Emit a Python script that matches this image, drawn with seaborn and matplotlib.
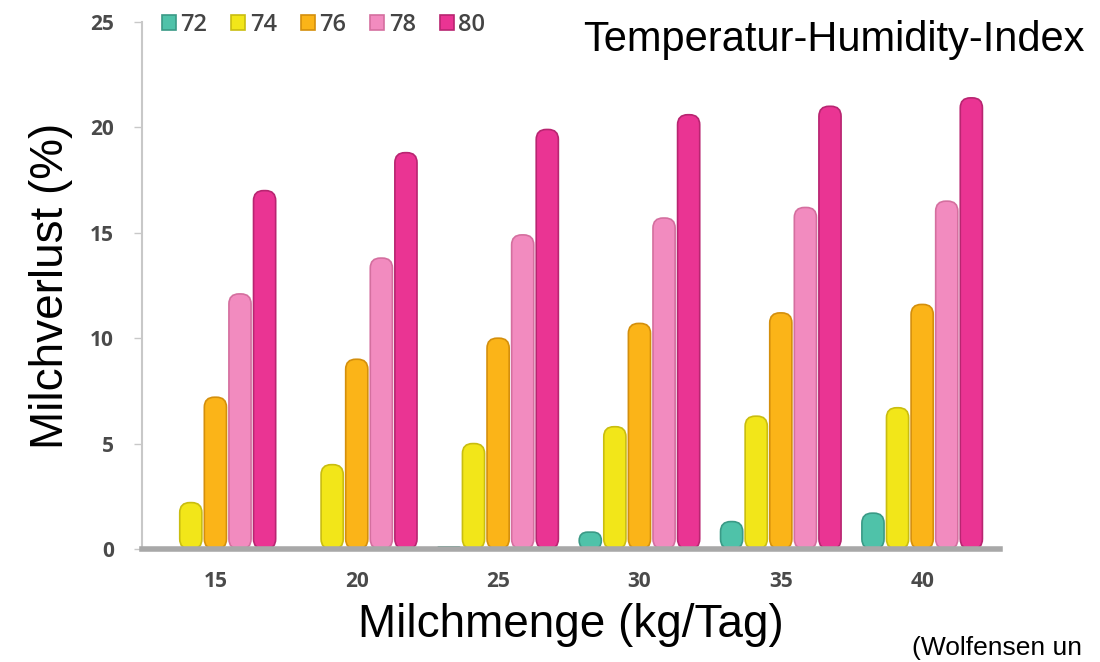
import matplotlib
matplotlib.use("Agg")
import matplotlib.pyplot as plt
from matplotlib.patches import FancyBboxPatch, Rectangle
import numpy as np
import pandas as pd
import seaborn as sns

# Milk yield groups (kg/day) and THI levels
milk_yield = ["15", "20", "25", "30", "35", "40"]
thi_levels = ["72", "74", "76", "78", "80"]

# Milk loss (%) per THI level, one value per milk-yield group
loss_72 = [0.0, 0.0, 0.1, 0.8, 1.3, 1.7]
loss_74 = [2.2, 4.0, 5.0, 5.8, 6.3, 6.7]
loss_76 = [7.2, 9.0, 10.0, 10.7, 11.2, 11.6]
loss_78 = [12.1, 13.8, 14.9, 15.7, 16.2, 16.5]
loss_80 = [17.0, 18.8, 19.9, 20.6, 21.0, 21.4]

y_ticks = [0, 5, 10, 15, 20, 25]

colors = ["#4fc2a9", "#f2e619", "#fbb418", "#f28bbf", "#ea3493"]
edges = ["#3a9a86", "#c9bd10", "#d48f0c", "#d46f9f", "#b82571"]

series = [loss_72, loss_74, loss_76, loss_78, loss_80]
df = pd.DataFrame({
    "Milchmenge": [m for _ in thi_levels for m in milk_yield],
    "THI": [t for t in thi_levels for _ in milk_yield],
    "Verlust": [v for s in series for v in s],
})

sns.set_theme(style="white")
plt.rcParams["font.family"] = ["Liberation Sans", "DejaVu Sans"]

fig = plt.figure(figsize=(11, 6.62), dpi=100)
ax = fig.add_axes([0.129, 0.1707, 0.78, 0.7961])

sns.barplot(data=df, x="Milchmenge", y="Verlust", hue="THI",
            order=milk_yield, hue_order=thi_levels, palette=colors,
            saturation=1, width=0.87, gap=0.1, errorbar=None, ax=ax,
            legend=False)

ax.set_ylim(0, 25)
ax.set_xlim(-0.52, 5.55)

# Swap the plain rectangles for rounded, outlined bars
y_px = 21.0
x_px = 141.4
rad_px = 10.0
rad_x = rad_px / x_px
aspect = (rad_px / y_px) / rad_x
rgb_list = [np.array(matplotlib.colors.to_rgb(c)) for c in colors]
bars = [p for p in ax.patches if isinstance(p, Rectangle)]
for p in bars:
    h = p.get_height()
    p.set_visible(False)
    if h <= 0:
        continue
    fc = np.array(p.get_facecolor()[:3])
    idx = int(np.argmin([np.abs(fc - c).sum() for c in rgb_list]))
    w = p.get_width()
    rs = min(rad_x, w / 2, h / aspect / 2)
    fb = FancyBboxPatch((p.get_x(), p.get_y()), w, h,
                        boxstyle=f"round,pad=0,rounding_size={rs}",
                        mutation_aspect=aspect,
                        facecolor=colors[idx], edgecolor=edges[idx],
                        linewidth=1.2, zorder=3, clip_on=False)
    ax.add_patch(fb)

# Axes styling
for s in ["top", "right"]:
    ax.spines[s].set_visible(False)
ax.spines["left"].set_color("#c8c8c8")
ax.spines["left"].set_linewidth(1.5)
ax.spines["bottom"].set_color("#a8a8a8")
ax.spines["bottom"].set_linewidth(4)
ax.spines["bottom"].set_zorder(4)

ax.set_yticks(y_ticks)
ax.set_yticklabels([str(t) for t in y_ticks])
ax.tick_params(axis="y", length=6, width=1, color="#c8c8c8", pad=14,
               labelsize=15, labelcolor="#4a4a4a", direction="out", left=True)
ax.tick_params(axis="x", length=0, pad=16, labelsize=15, labelcolor="#4a4a4a")
for lab in ax.get_xticklabels() + ax.get_yticklabels():
    lab.set_fontfamily(["Open Sans", "DejaVu Sans"])
    lab.set_fontweight("bold")

ax.set_xlabel("Milchmenge (kg/Tag)", fontsize=33, color="black", labelpad=8)
ax.set_ylabel("Milchverlust (%)", fontsize=33, color="black", labelpad=12)

# Legend across the top
handles = [Rectangle((0, 0), 1, 1, facecolor=c, edgecolor=e, linewidth=1.2)
           for c, e in zip(colors, edges)]
leg = ax.legend(handles, thi_levels, loc="center left",
                bbox_to_anchor=(0.012, 0.995), ncol=5, frameon=False,
                handlelength=0.6, handleheight=0.6, handletextpad=0.2,
                columnspacing=1.0, borderaxespad=0,
                prop={"family": ["Open Sans", "DejaVu Sans"], "size": 17,
                      "weight": "semibold"})
for t in leg.get_texts():
    t.set_color("#444444")

fig.text(0.53, 0.94, "Temperatur-Humidity-Index", fontsize=30,
         ha="left", va="center", color="black")
fig.text(0.829, 0.003, "(Wolfensen un", fontsize=19, ha="left",
         va="bottom", color="black")

fig.savefig("out.png", dpi=100, facecolor="white")
